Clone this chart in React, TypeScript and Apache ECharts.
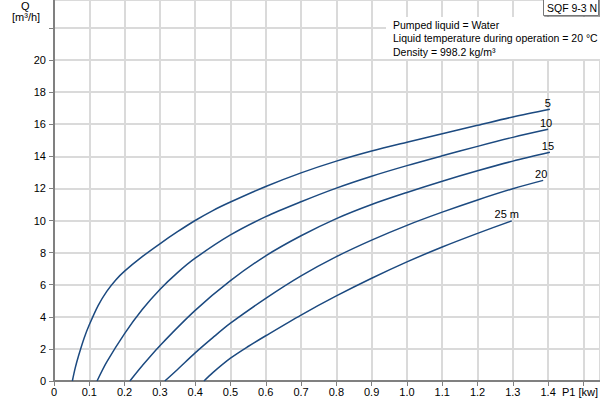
import React, { useEffect, useRef } from "react";
import * as echarts from "echarts";

// P1 [kW] vs Q [m3/h] for each head (m)
const curve5: [number, number][] = [
  [0.052, 0], [0.06, 0.8], [0.07, 1.6], [0.085, 2.65], [0.1, 3.5], [0.125, 4.7], [0.15, 5.6],
  [0.175, 6.3], [0.2, 6.85], [0.25, 7.75], [0.3, 8.55], [0.35, 9.3], [0.4, 10.0], [0.45, 10.62],
  [0.5, 11.15], [0.6, 12.12], [0.7, 12.97], [0.8, 13.7], [0.9, 14.33], [1.0, 14.88], [1.1, 15.41],
  [1.2, 15.93], [1.3, 16.45], [1.405, 16.93],
];
const curve10: [number, number][] = [
  [0.122, 0], [0.15, 1.2], [0.2, 2.95], [0.25, 4.45], [0.3, 5.7], [0.35, 6.75], [0.4, 7.65],
  [0.5, 9.1], [0.6, 10.24], [0.7, 11.17], [0.8, 12.02], [0.9, 12.76], [1.0, 13.42], [1.1, 14.03],
  [1.2, 14.62], [1.3, 15.18], [1.4, 15.68],
];
const curve15: [number, number][] = [
  [0.215, 0], [0.25, 0.95], [0.3, 2.2], [0.4, 4.4], [0.5, 6.25], [0.6, 7.8], [0.7, 9.05],
  [0.8, 10.12], [0.9, 11.0], [1.0, 11.75], [1.1, 12.45], [1.2, 13.1], [1.3, 13.7], [1.405, 14.25],
];
const curve20: [number, number][] = [
  [0.314, 0], [0.35, 0.72], [0.4, 1.75], [0.45, 2.7], [0.5, 3.6], [0.6, 5.15], [0.7, 6.55],
  [0.8, 7.75], [0.9, 8.78], [1.0, 9.7], [1.1, 10.52], [1.2, 11.28], [1.3, 11.98], [1.386, 12.5],
];
const curve25: [number, number][] = [
  [0.425, 0], [0.45, 0.52], [0.5, 1.42], [0.55, 2.15], [0.6, 2.82], [0.7, 4.11], [0.8, 5.3],
  [0.9, 6.4], [1.0, 7.42], [1.1, 8.35], [1.2, 9.2], [1.297, 9.98],
];
const curveNames = ["5", "10", "15", "20", "25 m"];
const infoLines = [
  "Pumped liquid = Water",
  "Liquid temperature during operation = 20 °C",
  "Density = 998.2 kg/m³",
];
const titleText = "SQF 9-3 N";

const FONT = "Liberation Sans";
const LINE = "#1c4a80";

export default function App() {
  const ref = useRef<HTMLDivElement>(null);
  useEffect(() => {
    if (!ref.current) return;
    const chart = echarts.init(ref.current, null, { renderer: "svg" });
    const curves = [curve5, curve10, curve15, curve20, curve25];
    const series = curves.map((c, i) => ({
      type: "line",
      name: curveNames[i],
      smooth: 0.3,
      showSymbol: false,
      symbol: "none",
      z: 2,
      lineStyle: { color: LINE, width: 1.5 },
      endLabel: {
        show: true,
        formatter: curveNames[i],
        color: "#000",
        fontFamily: FONT,
        fontSize: 11,
        align: "center",
        verticalAlign: "bottom",
        distance: 0,
        offset: [i === 4 ? -5 : -2, -1],
      },
      data: c,
    }));
    chart.setOption({
      animation: false,
      backgroundColor: "#fff",
      grid: { left: 54, right: 0, top: 0, bottom: 19, containLabel: false },
      xAxis: {
        type: "value",
        min: 0,
        max: 1.547,
        interval: 0.1,
        axisLine: { show: true, onZero: false, lineStyle: { color: "#808080", width: 2 } },
        axisTick: { show: true, length: 5, lineStyle: { color: "#808080", width: 1 } },
        axisLabel: {
          color: "#000",
          fontFamily: FONT,
          fontSize: 11,
          margin: 5,
          showMaxLabel: false,
          formatter: (v: number) => (v > 1.45 ? "" : v === 0 ? "0" : v.toFixed(1)),
        },
        splitLine: { show: true, lineStyle: { color: "#dadada", width: 2 } },
      },
      yAxis: {
        type: "value",
        min: 0,
        max: 23.74,
        interval: 2,
        axisLine: { show: true, onZero: false, lineStyle: { color: "#808080", width: 2 } },
        axisTick: { show: true, length: 5, lineStyle: { color: "#808080", width: 1 } },
        axisLabel: {
          color: "#000",
          fontFamily: FONT,
          fontSize: 11,
          margin: 8,
          showMaxLabel: false,
          formatter: (v: number) => (v > 20.5 ? "" : String(v)),
        },
        splitLine: { show: true, lineStyle: { color: "#dadada", width: 2 } },
      },
      graphic: [
        {
          type: "text",
          left: 21,
          top: 0,
          style: { text: "Q", font: `11px "${FONT}"`, fill: "#000" },
        },
        {
          type: "text",
          left: 12,
          top: 11,
          style: { text: "[m³/h]", font: `11px "${FONT}"`, fill: "#000" },
        },
        {
          type: "text",
          left: 562,
          top: 386,
          style: { text: "P1 [kw]", font: `11px "${FONT}"`, fill: "#000" },
        },
        {
          type: "rect",
          z: 50,
          shape: { x: 386, y: 17, width: 214, height: 42 },
          style: { fill: "#fff" },
        },
        ...infoLines.map((t, i) => ({
          type: "text",
          z: 51,
          left: 393,
          top: 19.5 + i * 13.4,
          style: { text: t, font: `10.5px "${FONT}"`, fill: "#000" },
        })),
        {
          type: "rect",
          z: 50,
          shape: { x: 543.5, y: -1, width: 55, height: 16.5 },
          style: { fill: "#fff", stroke: "#777", lineWidth: 1, shadowColor: "rgba(0,0,0,0.35)", shadowOffsetX: 1, shadowOffsetY: 1, shadowBlur: 0 },
        },
        {
          type: "text",
          z: 51,
          left: 547,
          top: 2,
          style: { text: titleText, font: `10.5px "${FONT}"`, fill: "#000" },
        },
      ],
      series,
    });
    return () => chart.dispose();
  }, []);
  return <div ref={ref} style={{ position: "absolute", left: 0, top: 0, width: 600, height: 400 }} />;
}
